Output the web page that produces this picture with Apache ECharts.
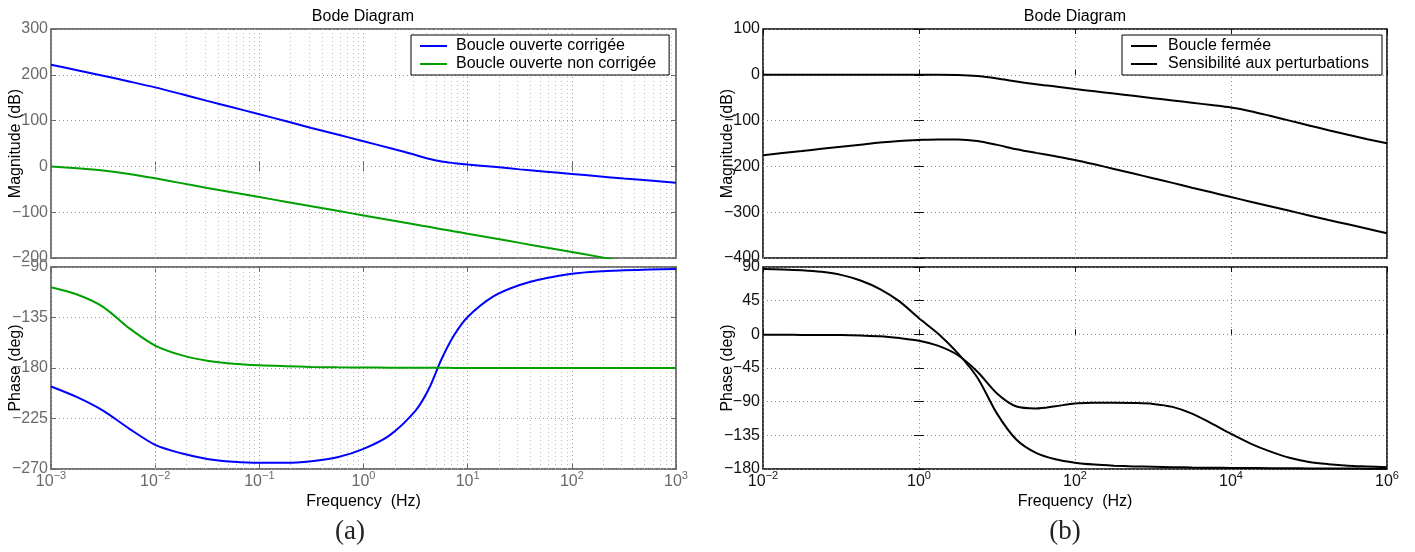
<!DOCTYPE html>
<html><head><meta charset="utf-8">
<script src="https://cdn.jsdelivr.net/npm/echarts@6/dist/echarts.min.js"></script>
<style>html,body{margin:0;padding:0;background:#fff}#c{width:1415px;height:552px}</style>
</head><body><div id="c"></div>
<script>
// ---------- (a) open loop, frequency in Hz ----------
const freqA = [0.001, 0.00178, 0.00316, 0.00562, 0.01, 0.0178, 0.0316, 0.0562, 0.1, 0.178, 0.316, 0.562,
  1, 1.78, 3.16, 4.22, 5.62, 7.5, 10, 17.8, 31.6, 56.2, 100, 178, 316, 562, 1000];
const magCorr = [222, 210, 198, 185.5, 172.5, 158, 143, 128.5, 114, 99, 84, 69.5,
  55, 40, 25, 16.5, 10.5, 7, 4, -1, -6.5, -11.5, -16.5, -21.5, -26.5, -31, -35.5];
const magNonCorr = [0, -4, -9, -16.5, -26, -36.5, -47, -57, -67, -77, -87, -97,
  -107, -117, -127, -132, -137, -142, -147, -157, -167, -177, -187, -197, -207, -217, -227];
const phaseCorr = [-196.5, -206, -218, -234, -248.5, -256, -261, -263.5, -264.5, -264.5, -263, -259.5,
  -252, -240, -218, -199, -172, -150, -134.5, -116, -106, -100, -96, -94, -93, -92.3, -91.8];
const phaseNonCorr = [-108, -114.5, -125.5, -144.5, -160, -168.5, -173.5, -176.2, -177.6, -178.4, -179, -179.4,
  -179.6, -179.7, -179.8, -179.8, -179.8, -179.9, -179.9, -179.9, -180, -180, -180, -180, -180, -180, -180];
const namesA = ['Boucle ouverte corrigée', 'Boucle ouverte non corrigée'];
const decadesA = [0.001, 0.01, 0.1, 1, 10, 100];
const minorMult = [2, 3, 4, 5, 6, 7, 8, 9];

// ---------- (b) closed loop, frequency in Hz ----------
const freqB = [0.01, 0.0178, 0.0316, 0.0562, 0.1, 0.178, 0.316, 0.562, 1, 1.78, 3.16, 5.62,
  10, 17.8, 31.6, 56.2, 100, 178, 316, 562, 1000, 1780, 3160, 5620,
  1e4, 17800, 31600, 56200, 1e5, 178000, 316000, 562000, 1e6];
const magFermee = [0, 0, 0, 0, 0, 0, 0, 0, 0, 0, -0.3, -2.5,
  -8, -14.5, -20.5, -25.5, -31, -36, -41, -46, -51, -56, -61, -66,
  -71.5, -79.5, -89.5, -100, -110.5, -121, -131, -140.5, -149.5];
const magSens = [-175.8, -171, -166.5, -161.5, -157, -152.5, -148, -144.5, -142.4, -141, -141, -144.5,
  -153, -162.5, -170.5, -178, -186, -195.5, -205.5, -215.5, -226, -236, -246.5, -256.5,
  -267, -277, -287, -297, -307, -317, -326.5, -336, -346];
const phaseFermee = [-0.5, -0.6, -0.8, -0.9, -1, -1.6, -2.5, -5, -8.5, -15.5, -28, -50,
  -79, -96.5, -99, -96, -92.5, -91.5, -91.3, -91.8, -93, -97, -106, -119,
  -133, -146, -156.5, -165, -170.5, -173.5, -175.5, -176.5, -177.5];
const phaseSens = [87.3, 86.8, 85.7, 83.5, 79.5, 72, 60.5, 44, 21.4, 0.5, -25.5, -58,
  -106, -141, -158.5, -167, -171.5, -174, -175.5, -176.5, -177, -177.5, -178, -178.3,
  -178.5, -178.7, -179, -179, -179.2, -179.3, -179.4, -179.5, -179.5];
const namesB = ['Boucle fermée', 'Sensibilité aux perturbations'];
const expTicksB = [-2, 0, 2, 4, 6];

const FONT = 'Liberation Sans, Arial, Helvetica, sans-serif';
const GRAYA = '#6a6a6a';
const DARKB = '#111111';
const DOT = [1, 3];

const sup = e => '{b|10}{s|' + (e < 0 ? '\u2212' + (-e) : String(e)) + '}';
const minus = v => String(v).replace('-', '\u2212');
const richX = col => ({
  b: { fontSize: 16, lineHeight: 24, color: col, fontFamily: FONT },
  s: { fontSize: 11, lineHeight: 10, verticalAlign: 'top', color: col, fontFamily: FONT }
});

const minorLines = [];
decadesA.forEach(d => minorMult.forEach(m => minorLines.push({ xAxis: d * m })));
const markMinor = {
  symbol: ['none', 'none'], silent: true, animation: false,
  label: { show: false }, emphasis: { disabled: true },
  lineStyle: { type: DOT, color: '#bdbdbd', width: 1 },
  data: minorLines
};

function xLog(gi, min, max, pos, col, withLabels) {
  const ax = {
    type: 'log', logBase: 10, gridIndex: gi, min, max, position: pos,
    axisLine: { show: false },
    axisTick: { show: true, inside: true, length: 5, lineStyle: { color: col, width: 1 } },
    axisLabel: { show: false },
    splitLine: { show: pos === 'bottom', lineStyle: { type: DOT, color: '#9a9a9a', width: 1 } }
  };
  if (withLabels) {
    ax.axisLabel = { show: true, margin: 1, formatter: v => sup(Math.round(Math.log10(v))), rich: richX(col) };
    ax.name = 'Frequency  (Hz)';
    ax.nameLocation = 'middle';
    ax.nameGap = 25;
    ax.nameMoveOverlap = false;
    ax.nameTextStyle = { fontSize: 16, color: '#000', fontFamily: FONT };
  }
  return ax;
}
function xExp(gi, pos, col, withLabels) {
  const ax = {
    type: 'value', gridIndex: gi, min: -2, max: 6, interval: 2, position: pos,
    axisLine: { show: false },
    axisTick: { show: true, inside: true, length: 5, lineStyle: { color: col, width: 1 } },
    axisLabel: { show: false },
    splitLine: { show: pos === 'bottom', lineStyle: { type: DOT, color: '#8a8a8a', width: 1 } }
  };
  if (withLabels) {
    ax.axisLabel = { show: true, margin: 1, formatter: v => expTicksB.includes(v) ? sup(v) : '', rich: richX(col) };
    ax.name = 'Frequency  (Hz)';
    ax.nameLocation = 'middle';
    ax.nameGap = 25;
    ax.nameMoveOverlap = false;
    ax.nameTextStyle = { fontSize: 16, color: '#000', fontFamily: FONT };
  }
  return ax;
}
function yVal(gi, min, max, interval, pos, col, name, gridCol) {
  const ax = {
    type: 'value', gridIndex: gi, min, max, interval, position: pos,
    axisLine: { show: false },
    axisTick: { show: true, inside: true, length: 5, lineStyle: { color: col, width: 1 } },
    axisLabel: { show: false },
    splitLine: { show: pos === 'left', lineStyle: { type: DOT, color: gridCol, width: 1 } }
  };
  if (name) {
    ax.axisLabel = { show: true, margin: 3, fontSize: 16, color: col, fontFamily: FONT, formatter: minus };
    ax.name = name;
    ax.nameLocation = 'middle';
    ax.nameGap = 27;
    ax.nameMoveOverlap = false;
    ax.nameTextStyle = { fontSize: 16, color: '#000', fontFamily: FONT };
  }
  return ax;
}
function line(name, xi, yi, xs, ys, color, extra) {
  return Object.assign({
    type: 'line', name, xAxisIndex: xi, yAxisIndex: yi,
    data: xs.map((x, i) => [x, ys[i]]),
    symbol: 'none', smooth: 0.3, silent: true, z: 10,
    lineStyle: { width: 2, color }, itemStyle: { color }
  }, extra || {});
}

const legendBase = {
  orient: 'vertical', icon: 'rect', itemWidth: 27, itemHeight: 2, itemGap: 0, padding: [2, 13, 2, 9],
  borderColor: '#000', borderWidth: 1, backgroundColor: '#fff', z: 20, selectedMode: false,
  textStyle: { fontSize: 16, lineHeight: 18, color: '#000', fontFamily: FONT, padding: [0, 0, 0, 4] }
};
const gridBase = { show: true, outerBoundsMode: 'none', containLabel: false };

const option = {
  animation: false,
  backgroundColor: '#fff',
  grid: [
    Object.assign({ left: 51, top: 29, width: 625, height: 229, borderColor: '#777', borderWidth: 2 }, gridBase),
    Object.assign({ left: 51, top: 267, width: 625, height: 202, borderColor: '#777', borderWidth: 2 }, gridBase),
    Object.assign({ left: 763, top: 29, width: 624, height: 229, borderColor: '#000', borderWidth: 1.5 }, gridBase),
    Object.assign({ left: 763, top: 267, width: 624, height: 202, borderColor: '#000', borderWidth: 1.5 }, gridBase)
  ],
  xAxis: [
    xLog(0, 0.001, 1000, 'bottom', GRAYA, false),
    xLog(0, 0.001, 1000, 'top', GRAYA, false),
    xLog(1, 0.001, 1000, 'bottom', GRAYA, true),
    xLog(1, 0.001, 1000, 'top', GRAYA, false),
    { type: 'log', logBase: 10, gridIndex: 2, min: 0.01, max: 1e6, show: false },
    xExp(2, 'bottom', DARKB, false),
    xExp(2, 'top', DARKB, false),
    { type: 'log', logBase: 10, gridIndex: 3, min: 0.01, max: 1e6, show: false },
    xExp(3, 'bottom', DARKB, true),
    xExp(3, 'top', DARKB, false)
  ],
  yAxis: [
    yVal(0, -200, 300, 100, 'left', GRAYA, 'Magnitude (dB)', '#9a9a9a'),
    yVal(0, -200, 300, 100, 'right', GRAYA, null),
    yVal(1, -270, -90, 45, 'left', GRAYA, 'Phase (deg)', '#9a9a9a'),
    yVal(1, -270, -90, 45, 'right', GRAYA, null),
    yVal(2, -400, 100, 100, 'left', DARKB, 'Magnitude (dB)', '#8a8a8a'),
    yVal(2, -400, 100, 100, 'right', DARKB, null),
    yVal(3, -180, 90, 45, 'left', DARKB, 'Phase (deg)', '#8a8a8a'),
    yVal(3, -180, 90, 45, 'right', DARKB, null)
  ],
  legend: [
    Object.assign({}, legendBase, { data: namesA, left: 411, top: 35 }),
    Object.assign({}, legendBase, { data: namesB, left: 1122, top: 35, itemWidth: 26, textStyle: Object.assign({}, legendBase.textStyle, { padding: [0, 0, 0, 6] }) })
  ],
  graphic: [
    { type: 'text', x: 363, y: 17, silent: true, style: { text: 'Bode Diagram', fontSize: 16, fontFamily: FONT, fill: '#000', align: 'center', verticalAlign: 'middle' } },
    { type: 'text', x: 1075, y: 17, silent: true, style: { text: 'Bode Diagram', fontSize: 16, fontFamily: FONT, fill: '#000', align: 'center', verticalAlign: 'middle' } },
    { type: 'text', x: 350, y: 532, silent: true, style: { text: '(a)', fontSize: 27, fontFamily: 'Liberation Serif, Times New Roman, serif', fill: '#222', align: 'center', verticalAlign: 'middle' } },
    { type: 'text', x: 1065, y: 532, silent: true, style: { text: '(b)', fontSize: 27, fontFamily: 'Liberation Serif, Times New Roman, serif', fill: '#222', align: 'center', verticalAlign: 'middle' } }
  ],
  series: [
    line(namesA[0], 0, 0, freqA, magCorr, '#0000ff', { markLine: markMinor }),
    line(namesA[1], 0, 0, freqA, magNonCorr, '#00a000'),
    line(namesA[0], 2, 2, freqA, phaseCorr, '#0000ff', { markLine: markMinor }),
    line(namesA[1], 2, 2, freqA, phaseNonCorr, '#00a000'),
    line(namesB[0], 4, 4, freqB, magFermee, '#000'),
    line(namesB[1], 4, 4, freqB, magSens, '#000'),
    line(namesB[0], 7, 6, freqB, phaseFermee, '#000'),
    line(namesB[1], 7, 6, freqB, phaseSens, '#000')
  ]
};

const chart = echarts.init(document.getElementById('c'), null, { renderer: 'canvas' });
chart.setOption(option);
</script>
</body></html>
